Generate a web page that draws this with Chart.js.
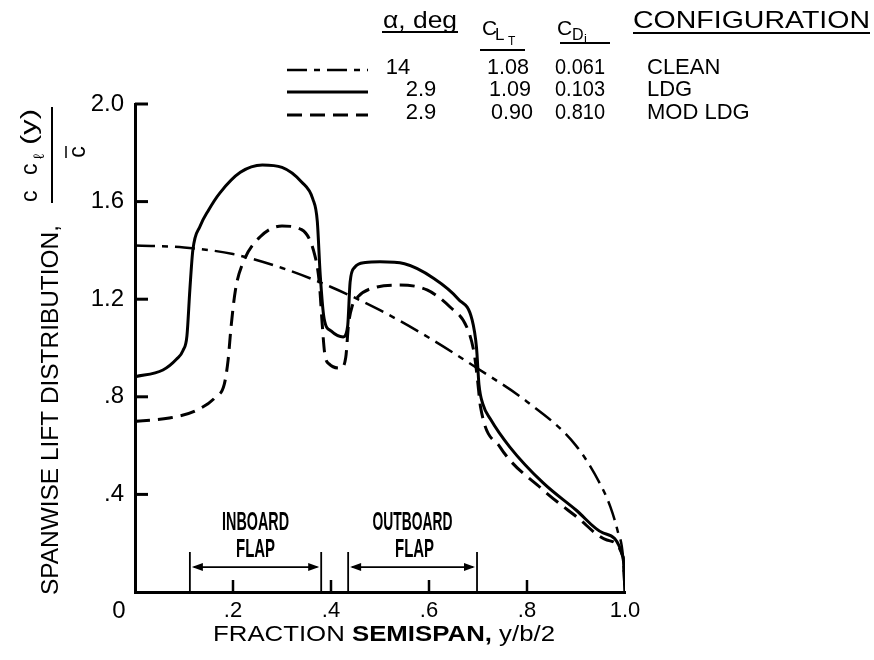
<!DOCTYPE html>
<html>
<head>
  <title>Spanwise lift distribution</title>
  <script src="https://cdn.jsdelivr.net/npm/chart.js"></script>
  <style>
    body { margin: 0; background: #fff; }
    #wrap { width: 874px; height: 660px; }
  </style>
</head>
<body>
  <div id="wrap"><canvas id="liftChart" width="874" height="660"></canvas></div>
  <script>
    // c*cl(y)/cbar against fraction of semispan, one pair of arrays per configuration
    const cleanX = [0, 0.1, 0.2, 0.3, 0.4, 0.5, 0.6, 0.7, 0.8, 0.9, 0.95, 0.97, 0.985, 0.996, 1.0];
    const cleanY = [1.42, 1.412, 1.385, 1.328, 1.25, 1.155, 1.042, 0.915, 0.78, 0.6, 0.44, 0.35, 0.25, 0.143, 0];

    const ldgX = [0, 0.057, 0.085, 0.098, 0.106, 0.112, 0.118, 0.133, 0.15, 0.173, 0.215, 0.26, 0.3, 0.34, 0.363, 0.372, 0.378, 0.386, 0.4, 0.425, 0.434, 0.439, 0.448, 0.47, 0.5, 0.55, 0.61, 0.66, 0.688, 0.697, 0.702, 0.71, 0.725, 0.765, 0.833, 0.9, 0.955, 0.996, 1.0];
    const ldgY = [0.882, 0.91, 0.955, 0.99, 1.05, 1.24, 1.40, 1.50, 1.565, 1.635, 1.72, 1.75, 1.74, 1.68, 1.61, 1.52, 1.3, 1.12, 1.07, 1.045, 1.09, 1.27, 1.33, 1.35, 1.353, 1.345, 1.285, 1.2, 1.115, 1.0, 0.85, 0.77, 0.71, 0.594, 0.447, 0.336, 0.242, 0.143, 0];

    const modX = [0, 0.07, 0.126, 0.165, 0.182, 0.19, 0.196, 0.205, 0.22, 0.255, 0.3, 0.34, 0.367, 0.376, 0.382, 0.387, 0.396, 0.42, 0.43, 0.436, 0.443, 0.455, 0.494, 0.54, 0.596, 0.643, 0.677, 0.692, 0.699, 0.705, 0.745, 0.833, 0.902, 0.963, 0.996, 1.0];
    const modY = [0.70, 0.713, 0.745, 0.80, 0.85, 0.95, 1.086, 1.238, 1.348, 1.455, 1.50, 1.485, 1.38, 1.27, 1.1, 0.98, 0.935, 0.918, 0.96, 1.10, 1.17, 1.21, 1.25, 1.258, 1.238, 1.168, 1.086, 0.98, 0.87, 0.76, 0.594, 0.418, 0.307, 0.213, 0.143, 0];

    // axis ticks
    const xTickValues = [0, 0.2, 0.4, 0.6, 0.8, 1.0];
    const xTickLabels = ['', '.2', '.4', '.6', '.8', '1.0'];
    const yTickValues = [0, 0.4, 0.8, 1.2, 1.6, 2.0];
    const yTickLabels = ['', '.4', '.8', '1.2', '1.6', '2.0'];

    // flap spans along the semispan
    const flapStart = [0.112, 0.435];
    const flapEnd = [0.38, 0.698];
    const flapNames = [['INBOARD', 'FLAP'], ['OUTBOARD', 'FLAP']];

    // table of run conditions
    const configs = ['CLEAN', 'LDG', 'MOD LDG'];
    const alphaDeg = ['14', '2.9', '2.9'];
    const liftCoef = ['1.08', '1.09', '0.90'];
    const dragCoef = ['0.061', '0.103', '0.810'];

    const FONT = '"Liberation Sans", Arial, Helvetica, sans-serif';
    const dashes = [[20, 7, 6, 7], [], [15, 8]];
    const widths = [2.5, 3, 3];

    function pts(xs, ys) {
      return xs.map((x, i) => ({ x: x, y: ys[i] }));
    }

    // draw text, squeezed horizontally to a given width if w is set
    function txt(ctx, s, x, y, size, opt) {
      opt = opt || {};
      ctx.save();
      ctx.font = (opt.bold ? 'bold ' : '') + size + 'px ' + FONT;
      ctx.textBaseline = opt.baseline || 'middle';
      ctx.textAlign = opt.align || 'left';
      ctx.fillStyle = '#000';
      ctx.translate(x, y);
      if (opt.w) {
        const m = ctx.measureText(s).width;
        ctx.scale(opt.w / m, 1);
      }
      ctx.fillText(s, 0, 0);
      ctx.restore();
    }

    function hline(ctx, x1, x2, y, lw, dash) {
      ctx.save();
      ctx.strokeStyle = '#000';
      ctx.lineWidth = lw;
      ctx.setLineDash(dash || []);
      ctx.beginPath();
      ctx.moveTo(x1, y);
      ctx.lineTo(x2, y);
      ctx.stroke();
      ctx.restore();
    }

    function arrowHead(ctx, x, y, dir) {
      ctx.beginPath();
      ctx.moveTo(x, y);
      ctx.lineTo(x - dir * 11, y - 4);
      ctx.lineTo(x - dir * 11, y + 4);
      ctx.closePath();
      ctx.fill();
    }

    const extras = {
      id: 'extras',
      afterDraw(chart) {
        const ctx = chart.ctx;
        const xs = chart.scales.x, ys = chart.scales.y;
        const x0 = xs.getPixelForValue(0), y0 = ys.getPixelForValue(0);

        ctx.save();
        ctx.strokeStyle = '#000';
        ctx.fillStyle = '#000';

        // inward tick marks
        ctx.lineWidth = 3;
        yTickValues.forEach(v => {
          if (v === 0) return;
          const py = ys.getPixelForValue(v);
          ctx.beginPath(); ctx.moveTo(x0, py); ctx.lineTo(x0 + 13, py); ctx.stroke();
        });
        ctx.lineWidth = 2.5;
        xTickValues.forEach(v => {
          if (v === 0 || v === 1) return;
          const px = xs.getPixelForValue(v);
          ctx.beginPath(); ctx.moveTo(px, y0); ctx.lineTo(px, y0 - 12); ctx.stroke();
        });

        // flap markers
        const top = ys.getPixelForValue(0.164);
        const ay = ys.getPixelForValue(0.102);
        flapStart.forEach((a, i) => {
          const pa = xs.getPixelForValue(a), pb = xs.getPixelForValue(flapEnd[i]);
          ctx.lineWidth = 1.8;
          ctx.beginPath();
          ctx.moveTo(pa, y0); ctx.lineTo(pa, top);
          ctx.moveTo(pb, y0); ctx.lineTo(pb, top);
          ctx.stroke();
          ctx.lineWidth = 1.6;
          ctx.beginPath(); ctx.moveTo(pa + 4, ay); ctx.lineTo(pb - 4, ay); ctx.stroke();
          arrowHead(ctx, pa + 2, ay, -1);
          arrowHead(ctx, pb - 2, ay, 1);
          const mid = (pa + pb) / 2;
          const w1 = i === 0 ? 67 : 80;
          txt(ctx, flapNames[i][0], mid, top - 29, 25, { bold: true, align: 'center', w: w1 });
          txt(ctx, flapNames[i][1], mid + (i === 0 ? 0 : 2), top - 2, 25, { bold: true, align: 'center', w: 39 });
        });
        ctx.restore();

        // origin label
        txt(ctx, '0', x0 - 16, y0 + 19, 24, { align: 'center' });

        // x axis title with bold word
        const parts = [['FRACTION ', false], ['SEMISPAN,', true], [' y/b/2', false]];
        ctx.save();
        let total = 0;
        const ws = parts.map(p => {
          ctx.font = (p[1] ? 'bold ' : '') + '22px ' + FONT;
          const w = ctx.measureText(p[0]).width;
          total += w;
          return w;
        });
        const sx = 342 / total;
        let cx = 213;
        parts.forEach((p, i) => {
          txt(ctx, p[0], cx, 635, 22, { bold: p[1], w: ws[i] * sx });
          cx += ws[i] * sx;
        });
        ctx.restore();

        // y axis title, rotated
        ctx.save();
        ctx.translate(52, 410);
        ctx.rotate(-Math.PI / 2);
        txt(ctx, 'SPANWISE LIFT DISTRIBUTION,', 0, 0, 23, { align: 'center', w: 370 });
        ctx.restore();

        // fraction c cl(y) / cbar, turned to read upward
        ctx.save();
        ctx.translate(52, 155);
        ctx.rotate(-Math.PI / 2);
        hline(ctx, -48, 48, 0, 2);
        txt(ctx, 'c', -47, -15, 23, { baseline: 'alphabetic' });
        txt(ctx, 'c', -20, -15, 23, { baseline: 'alphabetic' });
        txt(ctx, '\u2113', -4, -8, 15, { baseline: 'alphabetic' });
        txt(ctx, '(y)', 10, -16, 22, { baseline: 'alphabetic', w: 36 });
        txt(ctx, 'c', 3, 27, 23, { align: 'center' });
        hline(ctx, -3, 9, 14, 1.5);
        ctx.restore();

        // condition table
        txt(ctx, '\u03b1, deg', 420, 21, 24, { align: 'center', w: 74 });
        hline(ctx, 382, 458, 32, 2);
        txt(ctx, 'C', 482, 35, 21, { baseline: 'alphabetic' });
        txt(ctx, 'L', 495, 40, 17, { baseline: 'alphabetic' });
        txt(ctx, 'T', 508, 45, 12, { baseline: 'alphabetic' });
        hline(ctx, 480, 525, 50, 2);
        txt(ctx, 'C', 557, 35, 21, { baseline: 'alphabetic' });
        txt(ctx, 'D', 572, 40, 16, { baseline: 'alphabetic' });
        txt(ctx, 'i', 584, 43, 13, { baseline: 'alphabetic' });
        hline(ctx, 560, 610, 43, 2);
        txt(ctx, 'CONFIGURATION', 633, 21, 24, { w: 237 });
        hline(ctx, 633, 870, 33, 2);

        const rowY = [68, 90, 113];
        const alphaX = [398, 421, 421];
        const liftX = [508, 510, 512];
        configs.forEach((c, i) => {
          const y = rowY[i];
          hline(ctx, 287, 368, y + 2, widths[i], dashes[i]);
          txt(ctx, alphaDeg[i], alphaX[i], y, 22, { align: 'center' });
          txt(ctx, liftCoef[i], liftX[i], y, 22, { align: 'center', w: 42 });
          txt(ctx, dragCoef[i], 580, y, 22, { align: 'center', w: 50 });
          txt(ctx, c, 647, y, 22);
        });
      }
    };

    function series(xs, ys, i) {
      return {
        data: pts(xs, ys),
        borderColor: '#000',
        borderWidth: widths[i],
        borderDash: dashes[i],
        pointRadius: 0,
        fill: false,
        cubicInterpolationMode: 'monotone'
      };
    }

    const ctx = document.getElementById('liftChart').getContext('2d');
    const liftChart = new Chart(ctx, {
      type: 'line',
      data: {
        datasets: [
          series(cleanX, cleanY, 0),
          series(ldgX, ldgY, 1),
          series(modX, modY, 2)
        ]
      },
      options: {
        responsive: false,
        animation: false,
        devicePixelRatio: 1,
        layout: { padding: { left: 90, top: 104, right: 249, bottom: 28 } },
        plugins: { legend: { display: false }, tooltip: { enabled: false } },
        scales: {
          x: {
            type: 'linear',
            min: 0,
            max: 1,
            afterBuildTicks: s => { s.ticks = xTickValues.map(v => ({ value: v })); },
            afterFit: s => { s.height = 40; },
            border: { display: true, color: '#000', width: 3 },
            grid: { display: false, drawTicks: false },
            ticks: {
              color: '#000',
              padding: 6,
              maxRotation: 0,
              font: { family: FONT, size: 22 },
              callback: (v, i) => xTickLabels[i]
            }
          },
          y: {
            type: 'linear',
            min: 0,
            max: 2,
            afterBuildTicks: s => { s.ticks = yTickValues.map(v => ({ value: v })); },
            afterFit: s => { s.width = 45; },
            border: { display: true, color: '#000', width: 3 },
            grid: { display: false, drawTicks: false },
            ticks: {
              color: '#000',
              padding: 11,
              font: { family: FONT, size: 24 },
              callback: (v, i) => yTickLabels[i]
            }
          }
        }
      },
      plugins: [extras]
    });
  </script>
</body>
</html>
